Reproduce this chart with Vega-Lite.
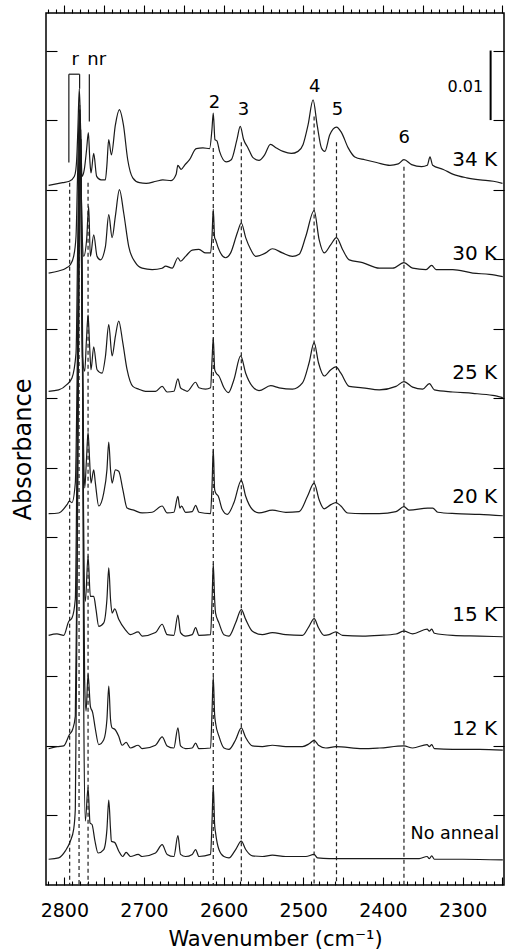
{
  "$schema": "https://vega.github.io/schema/vega-lite/v6.json",
  "width": 458,
  "height": 872,
  "autosize": {"type": "none"},
  "padding": {"left": 46, "top": 13, "right": 1, "bottom": 66},
  "config": {
    "font": "DejaVu Sans",
    "view": {"stroke": "#000", "strokeWidth": 1.5},
    "axis": {"domain": false, "grid": false, "tickColor": "#000", "labelColor": "#000", "titleColor": "#000", "tickWidth": 1.1, "titleFontWeight": "normal"}
  },
  "datasets": {
    "spectra": [
      {"T":"34 K","wn":2819.7,"a":0.1006},{"T":"34 K","wn":2802.1,"a":0.1010},{"T":"34 K","wn":2793.7,"a":0.1012},{"T":"34 K","wn":2787.5,"a":0.1019},{"T":"34 K","wn":2785.5,"a":0.1029},{"T":"34 K","wn":2784.5,"a":0.1043},{"T":"34 K","wn":2783,"a":0.1086},{"T":"34 K","wn":2781.2,"a":0.1145},{"T":"34 K","wn":2779.5,"a":0.1086},{"T":"34 K","wn":2777.8,"a":0.1019},{"T":"34 K","wn":2774.9,"a":0.1029},{"T":"34 K","wn":2772,"a":0.1058},{"T":"34 K","wn":2769.8,"a":0.1082},{"T":"34 K","wn":2768,"a":0.1043},{"T":"34 K","wn":2766.5,"a":0.1024},{"T":"34 K","wn":2763.1,"a":0.1052},{"T":"34 K","wn":2759.4,"a":0.1019},{"T":"34 K","wn":2753.9,"a":0.1014},{"T":"34 K","wn":2748.5,"a":0.1014},{"T":"34 K","wn":2746.5,"a":0.1036},{"T":"34 K","wn":2744.3,"a":0.1072},{"T":"34 K","wn":2740.9,"a":0.1050},{"T":"34 K","wn":2735.9,"a":0.1093},{"T":"34 K","wn":2730.9,"a":0.1115},{"T":"34 K","wn":2725.8,"a":0.1093},{"T":"34 K","wn":2720.4,"a":0.1043},{"T":"34 K","wn":2714.1,"a":0.1017},{"T":"34 K","wn":2705.7,"a":0.1010},{"T":"34 K","wn":2697.3,"a":0.1009},{"T":"34 K","wn":2684.7,"a":0.1012},{"T":"34 K","wn":2676.4,"a":0.1014},{"T":"34 K","wn":2665.9,"a":0.1013},{"T":"34 K","wn":2659.6,"a":0.1022},{"T":"34 K","wn":2657.5,"a":0.1035},{"T":"34 K","wn":2653.3,"a":0.1029},{"T":"34 K","wn":2649.1,"a":0.1035},{"T":"34 K","wn":2642.8,"a":0.1043},{"T":"34 K","wn":2634.4,"a":0.1059},{"T":"34 K","wn":2626,"a":0.1060},{"T":"34 K","wn":2617.6,"a":0.1059},{"T":"34 K","wn":2614.7,"a":0.1086},{"T":"34 K","wn":2613,"a":0.1110},{"T":"34 K","wn":2610.9,"a":0.1072},{"T":"34 K","wn":2608.4,"a":0.1070},{"T":"34 K","wn":2605.1,"a":0.1055},{"T":"34 K","wn":2596.7,"a":0.1040},{"T":"34 K","wn":2590.4,"a":0.1043},{"T":"34 K","wn":2583.3,"a":0.1072},{"T":"34 K","wn":2579.1,"a":0.1091},{"T":"34 K","wn":2574.9,"a":0.1072},{"T":"34 K","wn":2569.4,"a":0.1060},{"T":"34 K","wn":2563.1,"a":0.1046},{"T":"34 K","wn":2555.6,"a":0.1042},{"T":"34 K","wn":2548.5,"a":0.1050},{"T":"34 K","wn":2541.3,"a":0.1065},{"T":"34 K","wn":2533.8,"a":0.1060},{"T":"34 K","wn":2525.4,"a":0.1055},{"T":"34 K","wn":2515,"a":0.1052},{"T":"34 K","wn":2506.6,"a":0.1055},{"T":"34 K","wn":2500.2,"a":0.1065},{"T":"34 K","wn":2494,"a":0.1093},{"T":"34 K","wn":2487.7,"a":0.1129},{"T":"34 K","wn":2482.6,"a":0.1093},{"T":"34 K","wn":2477.2,"a":0.1060},{"T":"34 K","wn":2473,"a":0.1055},{"T":"34 K","wn":2466.7,"a":0.1079},{"T":"34 K","wn":2458.3,"a":0.1090},{"T":"34 K","wn":2452,"a":0.1082},{"T":"34 K","wn":2443.6,"a":0.1060},{"T":"34 K","wn":2435.3,"a":0.1047},{"T":"34 K","wn":2422.7,"a":0.1043},{"T":"34 K","wn":2408,"a":0.1039},{"T":"34 K","wn":2391.2,"a":0.1035},{"T":"34 K","wn":2380.8,"a":0.1037},{"T":"34 K","wn":2373.6,"a":0.1043},{"T":"34 K","wn":2364,"a":0.1036},{"T":"34 K","wn":2351.4,"a":0.1033},{"T":"34 K","wn":2344.3,"a":0.1035},{"T":"34 K","wn":2340.9,"a":0.1047},{"T":"34 K","wn":2337.6,"a":0.1035},{"T":"34 K","wn":2324.2,"a":0.1029},{"T":"34 K","wn":2311.6,"a":0.1022},{"T":"34 K","wn":2294.8,"a":0.1017},{"T":"34 K","wn":2278,"a":0.1014},{"T":"34 K","wn":2261.3,"a":0.1012},{"T":"34 K","wn":2249.9,"a":0.1009},

      {"T":"30 K","wn":2819.7,"a":0.0880},{"T":"30 K","wn":2807.1,"a":0.0883},{"T":"30 K","wn":2797.9,"a":0.0887},{"T":"30 K","wn":2792.5,"a":0.0892},{"T":"30 K","wn":2788.3,"a":0.0904},{"T":"30 K","wn":2785.3,"a":0.0933},{"T":"30 K","wn":2783.5,"a":0.1014},{"T":"30 K","wn":2781,"a":0.1115},{"T":"30 K","wn":2779,"a":0.1014},{"T":"30 K","wn":2777.5,"a":0.0933},{"T":"30 K","wn":2775.7,"a":0.0904},{"T":"30 K","wn":2772,"a":0.0928},{"T":"30 K","wn":2769.4,"a":0.0976},{"T":"30 K","wn":2767.3,"a":0.0904},{"T":"30 K","wn":2763.1,"a":0.0935},{"T":"30 K","wn":2758.9,"a":0.0904},{"T":"30 K","wn":2754.7,"a":0.0899},{"T":"30 K","wn":2748.4,"a":0.0918},{"T":"30 K","wn":2744.2,"a":0.0964},{"T":"30 K","wn":2740,"a":0.0931},{"T":"30 K","wn":2735.9,"a":0.0962},{"T":"30 K","wn":2730.8,"a":0.1000},{"T":"30 K","wn":2725.4,"a":0.0966},{"T":"30 K","wn":2719.1,"a":0.0918},{"T":"30 K","wn":2710.7,"a":0.0895},{"T":"30 K","wn":2702.3,"a":0.0887},{"T":"30 K","wn":2689.7,"a":0.0885},{"T":"30 K","wn":2677.2,"a":0.0887},{"T":"30 K","wn":2672.9,"a":0.0890},{"T":"30 K","wn":2664.6,"a":0.0887},{"T":"30 K","wn":2657.4,"a":0.0902},{"T":"30 K","wn":2654.1,"a":0.0897},{"T":"30 K","wn":2647.8,"a":0.0904},{"T":"30 K","wn":2639.4,"a":0.0913},{"T":"30 K","wn":2631,"a":0.0914},{"T":"30 K","wn":2622.6,"a":0.0909},{"T":"30 K","wn":2616.4,"a":0.0909},{"T":"30 K","wn":2614.5,"a":0.0935},{"T":"30 K","wn":2613,"a":0.0972},{"T":"30 K","wn":2611.3,"a":0.0931},{"T":"30 K","wn":2610.1,"a":0.0928},{"T":"30 K","wn":2606.7,"a":0.0916},{"T":"30 K","wn":2597.5,"a":0.0902},{"T":"30 K","wn":2591.2,"a":0.0909},{"T":"30 K","wn":2582.8,"a":0.0938},{"T":"30 K","wn":2577.8,"a":0.0952},{"T":"30 K","wn":2572.3,"a":0.0931},{"T":"30 K","wn":2566,"a":0.0914},{"T":"30 K","wn":2559.7,"a":0.0904},{"T":"30 K","wn":2547.2,"a":0.0909},{"T":"30 K","wn":2538.8,"a":0.0915},{"T":"30 K","wn":2526.2,"a":0.0909},{"T":"30 K","wn":2513.6,"a":0.0904},{"T":"30 K","wn":2505.2,"a":0.0907},{"T":"30 K","wn":2496.8,"a":0.0933},{"T":"30 K","wn":2486.4,"a":0.0970},{"T":"30 K","wn":2480.1,"a":0.0928},{"T":"30 K","wn":2473.8,"a":0.0909},{"T":"30 K","wn":2465.4,"a":0.0921},{"T":"30 K","wn":2458.3,"a":0.0931},{"T":"30 K","wn":2450.7,"a":0.0914},{"T":"30 K","wn":2442.3,"a":0.0899},{"T":"30 K","wn":2425.6,"a":0.0895},{"T":"30 K","wn":2404.6,"a":0.0887},{"T":"30 K","wn":2387.8,"a":0.0887},{"T":"30 K","wn":2373.6,"a":0.0895},{"T":"30 K","wn":2362.7,"a":0.0887},{"T":"30 K","wn":2345.9,"a":0.0885},{"T":"30 K","wn":2338.8,"a":0.0891},{"T":"30 K","wn":2333.3,"a":0.0885},{"T":"30 K","wn":2312.3,"a":0.0885},{"T":"30 K","wn":2287.2,"a":0.0880},{"T":"30 K","wn":2266.2,"a":0.0878},{"T":"30 K","wn":2249.5,"a":0.0875},

      {"T":"25 K","wn":2819.7,"a":0.0710},{"T":"25 K","wn":2807.1,"a":0.0712},{"T":"25 K","wn":2796.6,"a":0.0720},{"T":"25 K","wn":2790.4,"a":0.0729},{"T":"25 K","wn":2785.3,"a":0.0765},{"T":"25 K","wn":2783.3,"a":0.0914},{"T":"25 K","wn":2780.5,"a":0.1122},{"T":"25 K","wn":2778.5,"a":0.0914},{"T":"25 K","wn":2777.3,"a":0.0760},{"T":"25 K","wn":2774.4,"a":0.0739},{"T":"25 K","wn":2772.2,"a":0.0784},{"T":"25 K","wn":2770.2,"a":0.0820},{"T":"25 K","wn":2768.3,"a":0.0777},{"T":"25 K","wn":2766.5,"a":0.0741},{"T":"25 K","wn":2763.1,"a":0.0774},{"T":"25 K","wn":2758.9,"a":0.0741},{"T":"25 K","wn":2752.6,"a":0.0736},{"T":"25 K","wn":2748.4,"a":0.0760},{"T":"25 K","wn":2744.2,"a":0.0806},{"T":"25 K","wn":2740,"a":0.0761},{"T":"25 K","wn":2735.9,"a":0.0789},{"T":"25 K","wn":2731.7,"a":0.0811},{"T":"25 K","wn":2726.6,"a":0.0780},{"T":"25 K","wn":2721.2,"a":0.0741},{"T":"25 K","wn":2714,"a":0.0717},{"T":"25 K","wn":2706.5,"a":0.0713},{"T":"25 K","wn":2698.1,"a":0.0710},{"T":"25 K","wn":2685.5,"a":0.0710},{"T":"25 K","wn":2677.2,"a":0.0717},{"T":"25 K","wn":2670.9,"a":0.0709},{"T":"25 K","wn":2662.5,"a":0.0710},{"T":"25 K","wn":2657.4,"a":0.0728},{"T":"25 K","wn":2654.1,"a":0.0715},{"T":"25 K","wn":2649.9,"a":0.0712},{"T":"25 K","wn":2645.7,"a":0.0710},{"T":"25 K","wn":2635.2,"a":0.0723},{"T":"25 K","wn":2631,"a":0.0715},{"T":"25 K","wn":2622.6,"a":0.0713},{"T":"25 K","wn":2616.4,"a":0.0715},{"T":"25 K","wn":2614.5,"a":0.0756},{"T":"25 K","wn":2613,"a":0.0787},{"T":"25 K","wn":2611.2,"a":0.0741},{"T":"25 K","wn":2609.2,"a":0.0736},{"T":"25 K","wn":2605.9,"a":0.0732},{"T":"25 K","wn":2599.6,"a":0.0715},{"T":"25 K","wn":2594.1,"a":0.0708},{"T":"25 K","wn":2587,"a":0.0727},{"T":"25 K","wn":2578.6,"a":0.0761},{"T":"25 K","wn":2572.3,"a":0.0736},{"T":"25 K","wn":2563.9,"a":0.0717},{"T":"25 K","wn":2555.6,"a":0.0711},{"T":"25 K","wn":2540.9,"a":0.0718},{"T":"25 K","wn":2530.4,"a":0.0715},{"T":"25 K","wn":2513.6,"a":0.0713},{"T":"25 K","wn":2501,"a":0.0722},{"T":"25 K","wn":2492.7,"a":0.0751},{"T":"25 K","wn":2486.4,"a":0.0780},{"T":"25 K","wn":2480.9,"a":0.0751},{"T":"25 K","wn":2473.8,"a":0.0732},{"T":"25 K","wn":2465.4,"a":0.0741},{"T":"25 K","wn":2459.1,"a":0.0745},{"T":"25 K","wn":2452.8,"a":0.0736},{"T":"25 K","wn":2442.3,"a":0.0717},{"T":"25 K","wn":2425.6,"a":0.0715},{"T":"25 K","wn":2404.6,"a":0.0712},{"T":"25 K","wn":2383.6,"a":0.0717},{"T":"25 K","wn":2373.6,"a":0.0724},{"T":"25 K","wn":2362.7,"a":0.0716},{"T":"25 K","wn":2350.1,"a":0.0713},{"T":"25 K","wn":2341.7,"a":0.0721},{"T":"25 K","wn":2335.4,"a":0.0712},{"T":"25 K","wn":2312.3,"a":0.0709},{"T":"25 K","wn":2287.2,"a":0.0707},{"T":"25 K","wn":2262.1,"a":0.0704},{"T":"25 K","wn":2249.5,"a":0.0701},

      {"T":"20 K","wn":2819.7,"a":0.0534},{"T":"20 K","wn":2807.1,"a":0.0535},{"T":"20 K","wn":2796.6,"a":0.0547},{"T":"20 K","wn":2793.7,"a":0.0552},{"T":"20 K","wn":2790.4,"a":0.0550},{"T":"20 K","wn":2786.2,"a":0.0578},{"T":"20 K","wn":2783.5,"a":0.0770},{"T":"20 K","wn":2780.3,"a":0.1115},{"T":"20 K","wn":2778,"a":0.0842},{"T":"20 K","wn":2776,"a":0.0641},{"T":"20 K","wn":2774.4,"a":0.0571},{"T":"20 K","wn":2772.2,"a":0.0612},{"T":"20 K","wn":2770.2,"a":0.0651},{"T":"20 K","wn":2768.3,"a":0.0612},{"T":"20 K","wn":2766.5,"a":0.0578},{"T":"20 K","wn":2763.1,"a":0.0597},{"T":"20 K","wn":2761,"a":0.0578},{"T":"20 K","wn":2756.8,"a":0.0545},{"T":"20 K","wn":2750.5,"a":0.0564},{"T":"20 K","wn":2746.5,"a":0.0597},{"T":"20 K","wn":2744.2,"a":0.0637},{"T":"20 K","wn":2742,"a":0.0597},{"T":"20 K","wn":2740,"a":0.0578},{"T":"20 K","wn":2735.9,"a":0.0597},{"T":"20 K","wn":2731.7,"a":0.0595},{"T":"20 K","wn":2726.6,"a":0.0569},{"T":"20 K","wn":2721.2,"a":0.0542},{"T":"20 K","wn":2712.8,"a":0.0539},{"T":"20 K","wn":2702.3,"a":0.0535},{"T":"20 K","wn":2689.7,"a":0.0536},{"T":"20 K","wn":2677.2,"a":0.0545},{"T":"20 K","wn":2670.9,"a":0.0535},{"T":"20 K","wn":2662.5,"a":0.0536},{"T":"20 K","wn":2657.4,"a":0.0559},{"T":"20 K","wn":2654.9,"a":0.0542},{"T":"20 K","wn":2652.8,"a":0.0545},{"T":"20 K","wn":2647.8,"a":0.0536},{"T":"20 K","wn":2639.4,"a":0.0537},{"T":"20 K","wn":2635.2,"a":0.0546},{"T":"20 K","wn":2631,"a":0.0536},{"T":"20 K","wn":2616.4,"a":0.0534},{"T":"20 K","wn":2614.5,"a":0.0576},{"T":"20 K","wn":2613,"a":0.0627},{"T":"20 K","wn":2611.3,"a":0.0569},{"T":"20 K","wn":2610.1,"a":0.0564},{"T":"20 K","wn":2606.7,"a":0.0559},{"T":"20 K","wn":2601.7,"a":0.0540},{"T":"20 K","wn":2595.4,"a":0.0533},{"T":"20 K","wn":2587,"a":0.0550},{"T":"20 K","wn":2577.8,"a":0.0582},{"T":"20 K","wn":2572.3,"a":0.0559},{"T":"20 K","wn":2563.9,"a":0.0540},{"T":"20 K","wn":2555.6,"a":0.0535},{"T":"20 K","wn":2538.8,"a":0.0539},{"T":"20 K","wn":2522,"a":0.0536},{"T":"20 K","wn":2505.2,"a":0.0537},{"T":"20 K","wn":2494.7,"a":0.0559},{"T":"20 K","wn":2486.4,"a":0.0578},{"T":"20 K","wn":2480.1,"a":0.0554},{"T":"20 K","wn":2473.8,"a":0.0541},{"T":"20 K","wn":2465.4,"a":0.0547},{"T":"20 K","wn":2459.1,"a":0.0550},{"T":"20 K","wn":2452.8,"a":0.0545},{"T":"20 K","wn":2444.4,"a":0.0535},{"T":"20 K","wn":2425.6,"a":0.0534},{"T":"20 K","wn":2404.6,"a":0.0534},{"T":"20 K","wn":2383.6,"a":0.0537},{"T":"20 K","wn":2373.6,"a":0.0544},{"T":"20 K","wn":2366.9,"a":0.0539},{"T":"20 K","wn":2343.8,"a":0.0542},{"T":"20 K","wn":2337.5,"a":0.0542},{"T":"20 K","wn":2331.2,"a":0.0536},{"T":"20 K","wn":2308.2,"a":0.0534},{"T":"20 K","wn":2278.8,"a":0.0533},{"T":"20 K","wn":2249.5,"a":0.0531},

      {"T":"15 K","wn":2819.7,"a":0.0359},{"T":"15 K","wn":2809.2,"a":0.0361},{"T":"15 K","wn":2800.8,"a":0.0359},{"T":"15 K","wn":2794.5,"a":0.0379},{"T":"15 K","wn":2790.4,"a":0.0384},{"T":"15 K","wn":2786.2,"a":0.0411},{"T":"15 K","wn":2784,"a":0.0626},{"T":"15 K","wn":2780,"a":0.1101},{"T":"15 K","wn":2777,"a":0.0770},{"T":"15 K","wn":2775.5,"a":0.0468},{"T":"15 K","wn":2773.6,"a":0.0408},{"T":"15 K","wn":2770.2,"a":0.0473},{"T":"15 K","wn":2767.3,"a":0.0415},{"T":"15 K","wn":2763.1,"a":0.0415},{"T":"15 K","wn":2760.2,"a":0.0396},{"T":"15 K","wn":2756.8,"a":0.0372},{"T":"15 K","wn":2750.5,"a":0.0377},{"T":"15 K","wn":2746.5,"a":0.0411},{"T":"15 K","wn":2744.2,"a":0.0456},{"T":"15 K","wn":2742,"a":0.0411},{"T":"15 K","wn":2740,"a":0.0391},{"T":"15 K","wn":2736.7,"a":0.0397},{"T":"15 K","wn":2731.7,"a":0.0382},{"T":"15 K","wn":2723.3,"a":0.0367},{"T":"15 K","wn":2717,"a":0.0360},{"T":"15 K","wn":2707.3,"a":0.0364},{"T":"15 K","wn":2702.3,"a":0.0358},{"T":"15 K","wn":2685.5,"a":0.0363},{"T":"15 K","wn":2677.2,"a":0.0375},{"T":"15 K","wn":2670.9,"a":0.0360},{"T":"15 K","wn":2662.5,"a":0.0359},{"T":"15 K","wn":2657.4,"a":0.0388},{"T":"15 K","wn":2654.1,"a":0.0363},{"T":"15 K","wn":2647.8,"a":0.0358},{"T":"15 K","wn":2639.4,"a":0.0360},{"T":"15 K","wn":2635.2,"a":0.0370},{"T":"15 K","wn":2631,"a":0.0359},{"T":"15 K","wn":2616.4,"a":0.0360},{"T":"15 K","wn":2614.5,"a":0.0411},{"T":"15 K","wn":2613,"a":0.0462},{"T":"15 K","wn":2611.3,"a":0.0411},{"T":"15 K","wn":2610.1,"a":0.0391},{"T":"15 K","wn":2605.9,"a":0.0377},{"T":"15 K","wn":2599.6,"a":0.0360},{"T":"15 K","wn":2593.3,"a":0.0358},{"T":"15 K","wn":2584.9,"a":0.0377},{"T":"15 K","wn":2577.8,"a":0.0396},{"T":"15 K","wn":2572.3,"a":0.0382},{"T":"15 K","wn":2563.9,"a":0.0365},{"T":"15 K","wn":2551.4,"a":0.0360},{"T":"15 K","wn":2538.8,"a":0.0363},{"T":"15 K","wn":2522,"a":0.0360},{"T":"15 K","wn":2501,"a":0.0359},{"T":"15 K","wn":2492.7,"a":0.0372},{"T":"15 K","wn":2486.4,"a":0.0383},{"T":"15 K","wn":2480.9,"a":0.0370},{"T":"15 K","wn":2473.8,"a":0.0359},{"T":"15 K","wn":2467.5,"a":0.0360},{"T":"15 K","wn":2459.1,"a":0.0364},{"T":"15 K","wn":2450.7,"a":0.0359},{"T":"15 K","wn":2425.6,"a":0.0358},{"T":"15 K","wn":2404.6,"a":0.0359},{"T":"15 K","wn":2383.6,"a":0.0361},{"T":"15 K","wn":2373.6,"a":0.0365},{"T":"15 K","wn":2362.7,"a":0.0361},{"T":"15 K","wn":2344.6,"a":0.0368},{"T":"15 K","wn":2341.7,"a":0.0365},{"T":"15 K","wn":2338.8,"a":0.0368},{"T":"15 K","wn":2335.4,"a":0.0362},{"T":"15 K","wn":2312.3,"a":0.0359},{"T":"15 K","wn":2278.8,"a":0.0358},{"T":"15 K","wn":2249.5,"a":0.0357},

      {"T":"12 K","wn":2819.7,"a":0.0196},{"T":"12 K","wn":2809.2,"a":0.0199},{"T":"12 K","wn":2800.8,"a":0.0200},{"T":"12 K","wn":2793.7,"a":0.0216},{"T":"12 K","wn":2789.5,"a":0.0224},{"T":"12 K","wn":2786.2,"a":0.0243},{"T":"12 K","wn":2784,"a":0.0482},{"T":"12 K","wn":2779.5,"a":0.1086},{"T":"12 K","wn":2776.5,"a":0.0626},{"T":"12 K","wn":2774.5,"a":0.0295},{"T":"12 K","wn":2772.7,"a":0.0250},{"T":"12 K","wn":2770.2,"a":0.0303},{"T":"12 K","wn":2767.3,"a":0.0257},{"T":"12 K","wn":2764.4,"a":0.0248},{"T":"12 K","wn":2761,"a":0.0224},{"T":"12 K","wn":2756.8,"a":0.0202},{"T":"12 K","wn":2750.5,"a":0.0209},{"T":"12 K","wn":2746.5,"a":0.0238},{"T":"12 K","wn":2744.2,"a":0.0286},{"T":"12 K","wn":2742,"a":0.0238},{"T":"12 K","wn":2740,"a":0.0226},{"T":"12 K","wn":2736.7,"a":0.0224},{"T":"12 K","wn":2731.7,"a":0.0214},{"T":"12 K","wn":2727.5,"a":0.0201},{"T":"12 K","wn":2722.4,"a":0.0205},{"T":"12 K","wn":2717,"a":0.0197},{"T":"12 K","wn":2707.3,"a":0.0201},{"T":"12 K","wn":2702.3,"a":0.0196},{"T":"12 K","wn":2685.5,"a":0.0201},{"T":"12 K","wn":2677.2,"a":0.0213},{"T":"12 K","wn":2670.9,"a":0.0200},{"T":"12 K","wn":2662.5,"a":0.0197},{"T":"12 K","wn":2657.4,"a":0.0226},{"T":"12 K","wn":2654.1,"a":0.0200},{"T":"12 K","wn":2647.8,"a":0.0196},{"T":"12 K","wn":2639.4,"a":0.0197},{"T":"12 K","wn":2635.2,"a":0.0204},{"T":"12 K","wn":2631,"a":0.0196},{"T":"12 K","wn":2616.4,"a":0.0197},{"T":"12 K","wn":2614.5,"a":0.0252},{"T":"12 K","wn":2613,"a":0.0299},{"T":"12 K","wn":2611.3,"a":0.0245},{"T":"12 K","wn":2610.1,"a":0.0233},{"T":"12 K","wn":2605.9,"a":0.0214},{"T":"12 K","wn":2599.6,"a":0.0197},{"T":"12 K","wn":2593.3,"a":0.0195},{"T":"12 K","wn":2584.9,"a":0.0209},{"T":"12 K","wn":2577.8,"a":0.0226},{"T":"12 K","wn":2572.3,"a":0.0212},{"T":"12 K","wn":2563.9,"a":0.0200},{"T":"12 K","wn":2551.4,"a":0.0199},{"T":"12 K","wn":2538.8,"a":0.0201},{"T":"12 K","wn":2522,"a":0.0199},{"T":"12 K","wn":2501,"a":0.0199},{"T":"12 K","wn":2492.7,"a":0.0203},{"T":"12 K","wn":2486.4,"a":0.0208},{"T":"12 K","wn":2480.9,"a":0.0201},{"T":"12 K","wn":2471.7,"a":0.0197},{"T":"12 K","wn":2459.1,"a":0.0199},{"T":"12 K","wn":2425.6,"a":0.0196},{"T":"12 K","wn":2404.6,"a":0.0197},{"T":"12 K","wn":2373.6,"a":0.0200},{"T":"12 K","wn":2362.7,"a":0.0197},{"T":"12 K","wn":2344.6,"a":0.0202},{"T":"12 K","wn":2341.7,"a":0.0199},{"T":"12 K","wn":2338.8,"a":0.0202},{"T":"12 K","wn":2335.4,"a":0.0196},{"T":"12 K","wn":2312.3,"a":0.0195},{"T":"12 K","wn":2278.8,"a":0.0195},{"T":"12 K","wn":2249.5,"a":0.0194},

      {"T":"No anneal","wn":2819.7,"a":0.0037},{"T":"No anneal","wn":2807.1,"a":0.0039},{"T":"No anneal","wn":2798.7,"a":0.0049},{"T":"No anneal","wn":2792.5,"a":0.0063},{"T":"No anneal","wn":2788.3,"a":0.0080},{"T":"No anneal","wn":2786.2,"a":0.0109},{"T":"No anneal","wn":2784,"a":0.0411},{"T":"No anneal","wn":2781.5,"a":0.0914},{"T":"No anneal","wn":2779,"a":0.1072},{"T":"No anneal","wn":2777,"a":0.0698},{"T":"No anneal","wn":2775.5,"a":0.0238},{"T":"No anneal","wn":2773.6,"a":0.0092},{"T":"No anneal","wn":2770.2,"a":0.0140},{"T":"No anneal","wn":2767.7,"a":0.0089},{"T":"No anneal","wn":2765.2,"a":0.0087},{"T":"No anneal","wn":2761.8,"a":0.0065},{"T":"No anneal","wn":2757.6,"a":0.0046},{"T":"No anneal","wn":2750.5,"a":0.0051},{"T":"No anneal","wn":2746.5,"a":0.0080},{"T":"No anneal","wn":2744.2,"a":0.0122},{"T":"No anneal","wn":2742,"a":0.0080},{"T":"No anneal","wn":2740.9,"a":0.0063},{"T":"No anneal","wn":2736.7,"a":0.0061},{"T":"No anneal","wn":2731.7,"a":0.0049},{"T":"No anneal","wn":2726.6,"a":0.0041},{"T":"No anneal","wn":2722.4,"a":0.0047},{"T":"No anneal","wn":2717,"a":0.0041},{"T":"No anneal","wn":2707.3,"a":0.0044},{"T":"No anneal","wn":2702.3,"a":0.0041},{"T":"No anneal","wn":2685.5,"a":0.0046},{"T":"No anneal","wn":2677.2,"a":0.0058},{"T":"No anneal","wn":2670.9,"a":0.0044},{"T":"No anneal","wn":2662.5,"a":0.0041},{"T":"No anneal","wn":2657.4,"a":0.0071},{"T":"No anneal","wn":2654.1,"a":0.0044},{"T":"No anneal","wn":2647.8,"a":0.0041},{"T":"No anneal","wn":2639.4,"a":0.0044},{"T":"No anneal","wn":2635.2,"a":0.0051},{"T":"No anneal","wn":2631,"a":0.0041},{"T":"No anneal","wn":2616.4,"a":0.0044},{"T":"No anneal","wn":2614.5,"a":0.0094},{"T":"No anneal","wn":2613,"a":0.0143},{"T":"No anneal","wn":2611.3,"a":0.0087},{"T":"No anneal","wn":2610.1,"a":0.0075},{"T":"No anneal","wn":2605.9,"a":0.0051},{"T":"No anneal","wn":2599.6,"a":0.0041},{"T":"No anneal","wn":2593.3,"a":0.0039},{"T":"No anneal","wn":2584.9,"a":0.0051},{"T":"No anneal","wn":2577.8,"a":0.0063},{"T":"No anneal","wn":2572.3,"a":0.0051},{"T":"No anneal","wn":2563.9,"a":0.0042},{"T":"No anneal","wn":2551.4,"a":0.0041},{"T":"No anneal","wn":2538.8,"a":0.0043},{"T":"No anneal","wn":2522,"a":0.0041},{"T":"No anneal","wn":2496.8,"a":0.0041},{"T":"No anneal","wn":2486.4,"a":0.0044},{"T":"No anneal","wn":2482.2,"a":0.0039},{"T":"No anneal","wn":2467.5,"a":0.0038},{"T":"No anneal","wn":2425.6,"a":0.0038},{"T":"No anneal","wn":2383.6,"a":0.0038},{"T":"No anneal","wn":2354.3,"a":0.0038},{"T":"No anneal","wn":2344.6,"a":0.0041},{"T":"No anneal","wn":2341.7,"a":0.0038},{"T":"No anneal","wn":2338.8,"a":0.0042},{"T":"No anneal","wn":2335.4,"a":0.0037},{"T":"No anneal","wn":2299.8,"a":0.0037},{"T":"No anneal","wn":2249.5,"a":0.0036}
    ],
    "marks": [
      {"wn":2793.3,"a":0.1010},{"wn":2781.5,"a":0.1014},{"wn":2770.2,"a":0.1010},{"wn":2613,"a":0.1060},{"wn":2577.8,"a":0.1068},{"wn":2486.4,"a":0.1105},{"wn":2458.3,"a":0.1068},{"wn":2373.6,"a":0.1033}
    ],
    "bracket": [
      {"wn":2794.3,"wn2":2794.3,"a":0.1039,"a2":0.1166},
      {"wn":2794.3,"wn2":2780.8,"a":0.1166,"a2":0.1166},
      {"wn":2780.8,"wn2":2780.8,"a":0.1166,"a2":0.1145},
      {"wn":2768.6,"wn2":2768.6,"a":0.1098,"a2":0.1166}
    ],
    "bar": [{"wn":2264.8,"a":0.11,"a2":0.12}],
    "peaks": [
      {"wn":2786.2,"a":0.1186,"label":"r"},{"wn":2759.4,"a":0.1186,"label":"nr"},
      {"wn":2611.5,"a":0.1124,"label":"2"},{"wn":2575,"a":0.1114,"label":"3"},
      {"wn":2485.5,"a":0.1148,"label":"4"},{"wn":2457,"a":0.1115,"label":"5"},
      {"wn":2373.2,"a":0.1074,"label":"6"}
    ],
    "temps": [
      {"T":"34 K","wn":2256.6,"a":0.1043},{"T":"30 K","wn":2256.6,"a":0.0907},{"T":"25 K","wn":2256.6,"a":0.0737},{"T":"20 K","wn":2256.6,"a":0.0558},{"T":"15 K","wn":2256.6,"a":0.0388},{"T":"12 K","wn":2256.6,"a":0.0224},{"T":"No anneal","wn":2254,"a":0.0074}
    ],
    "scalelabel": [{"wn":2274.2,"a":0.1148,"label":"0.01"}]
  },
  "layer": [
    {
      "data": {"name": "marks"},
      "mark": {"type": "rule", "strokeDash": [4, 3], "strokeWidth": 1.2, "color": "#222"},
      "encoding": {
        "x": {"field": "wn", "type": "quantitative", "scale": {"domain": [2248, 2823], "reverse": true, "nice": false, "zero": false},
              "axis": {"orient": "top", "values": [2250,2260,2270,2280,2290,2300,2310,2320,2330,2340,2350,2360,2370,2380,2390,2400,2410,2420,2430,2440,2450,2460,2470,2480,2490,2500,2510,2520,2530,2540,2550,2560,2570,2580,2590,2600,2610,2620,2630,2640,2650,2660,2670,2680,2690,2700,2710,2720,2730,2740,2750,2760,2770,2780,2790,2800,2810,2820],
                       "tickSize": {"condition": {"test": "datum.value % 50 === 0", "value": 8}, "value": 4}, "labels": false, "title": null}},
        "y": {"field": "a", "type": "quantitative", "scale": {"domain": [0, 0.1254], "nice": false, "zero": false},
              "axis": {"orient": "right", "values": [0.01,0.02,0.03,0.04,0.05,0.06,0.07,0.08,0.09,0.1,0.11,0.12], "tickSize": -11, "labels": false, "title": null}},
        "y2": {"datum": 0}
      }
    },
    {
      "data": {"name": "spectra"},
      "mark": {"type": "line", "strokeWidth": 1.2, "color": "#1a1a1a", "strokeJoin": "round", "interpolate": "monotone"},
      "encoding": {
        "x": {"field": "wn", "type": "quantitative", "scale": {"domain": [2248, 2823], "reverse": true, "nice": false, "zero": false},
              "axis": {"orient": "bottom", "values": [2250,2260,2270,2280,2290,2300,2310,2320,2330,2340,2350,2360,2370,2380,2390,2400,2410,2420,2430,2440,2450,2460,2470,2480,2490,2500,2510,2520,2530,2540,2550,2560,2570,2580,2590,2600,2610,2620,2630,2640,2650,2660,2670,2680,2690,2700,2710,2720,2730,2740,2750,2760,2770,2780,2790,2800,2810,2820],
                       "tickSize": {"condition": {"test": "datum.value % 50 === 0", "value": -8}, "value": -4},
                       "format": "d", "labelExpr": "datum.value % 100 === 0 ? datum.label : ''", "labelFontSize": 19, "labelPadding": 24, "labelFlush": false, "labelOverlap": false, "title": "Wavenumber (cm⁻¹)", "titleFontSize": 21, "titleBaseline": "alphabetic", "titleY": 60}},
        "y": {"field": "a", "type": "quantitative", "scale": {"domain": [0, 0.1254], "nice": false, "zero": false},
              "axis": {"orient": "left", "values": [0.01,0.02,0.03,0.04,0.05,0.06,0.07,0.08,0.09,0.1,0.11,0.12], "tickSize": -11, "labels": false, "title": "Absorbance", "titleFontSize": 24, "titlePadding": 10}},
        "detail": {"field": "T"}
      }
    },
    {
      "data": {"name": "bracket"},
      "mark": {"type": "rule", "strokeWidth": 1.2, "color": "#1a1a1a"},
      "encoding": {
        "x": {"field": "wn", "type": "quantitative", "scale": {"domain": [2248, 2823], "reverse": true, "nice": false, "zero": false}, "axis": null},
        "x2": {"field": "wn2"},
        "y": {"field": "a", "type": "quantitative", "scale": {"domain": [0, 0.1254], "nice": false, "zero": false}, "axis": null},
        "y2": {"field": "a2"}
      }
    },
    {
      "data": {"name": "bar"},
      "mark": {"type": "rule", "strokeWidth": 2, "color": "#000"},
      "encoding": {
        "x": {"field": "wn", "type": "quantitative", "scale": {"domain": [2248, 2823], "reverse": true, "nice": false, "zero": false}, "axis": null},
        "y": {"field": "a", "type": "quantitative", "scale": {"domain": [0, 0.1254], "nice": false, "zero": false}, "axis": null},
        "y2": {"field": "a2"}
      }
    },
    {
      "data": {"name": "peaks"},
      "mark": {"type": "text", "fontSize": 18, "align": "center", "baseline": "middle", "color": "#000"},
      "encoding": {
        "x": {"field": "wn", "type": "quantitative", "scale": {"domain": [2248, 2823], "reverse": true, "nice": false, "zero": false}, "axis": null},
        "y": {"field": "a", "type": "quantitative", "scale": {"domain": [0, 0.1254], "nice": false, "zero": false}, "axis": null},
        "text": {"field": "label"}
      }
    },
    {
      "data": {"name": "temps"},
      "transform": [{"filter": "datum.T != 'No anneal'"}],
      "mark": {"type": "text", "fontSize": 20, "align": "right", "baseline": "middle", "color": "#000"},
      "encoding": {
        "x": {"field": "wn", "type": "quantitative", "scale": {"domain": [2248, 2823], "reverse": true, "nice": false, "zero": false}, "axis": null},
        "y": {"field": "a", "type": "quantitative", "scale": {"domain": [0, 0.1254], "nice": false, "zero": false}, "axis": null},
        "text": {"field": "T"}
      }
    },
    {
      "data": {"name": "temps"},
      "transform": [{"filter": "datum.T == 'No anneal'"}],
      "mark": {"type": "text", "fontSize": 17.5, "align": "right", "baseline": "middle", "color": "#000"},
      "encoding": {
        "x": {"field": "wn", "type": "quantitative", "scale": {"domain": [2248, 2823], "reverse": true, "nice": false, "zero": false}, "axis": null},
        "y": {"field": "a", "type": "quantitative", "scale": {"domain": [0, 0.1254], "nice": false, "zero": false}, "axis": null},
        "text": {"field": "T"}
      }
    },
    {
      "data": {"name": "scalelabel"},
      "mark": {"type": "text", "fontSize": 16, "align": "right", "baseline": "middle", "color": "#000"},
      "encoding": {
        "x": {"field": "wn", "type": "quantitative", "scale": {"domain": [2248, 2823], "reverse": true, "nice": false, "zero": false}, "axis": null},
        "y": {"field": "a", "type": "quantitative", "scale": {"domain": [0, 0.1254], "nice": false, "zero": false}, "axis": null},
        "text": {"field": "label"}
      }
    }
  ],
  "resolve": {"axis": {"x": "independent", "y": "independent"}}
}
